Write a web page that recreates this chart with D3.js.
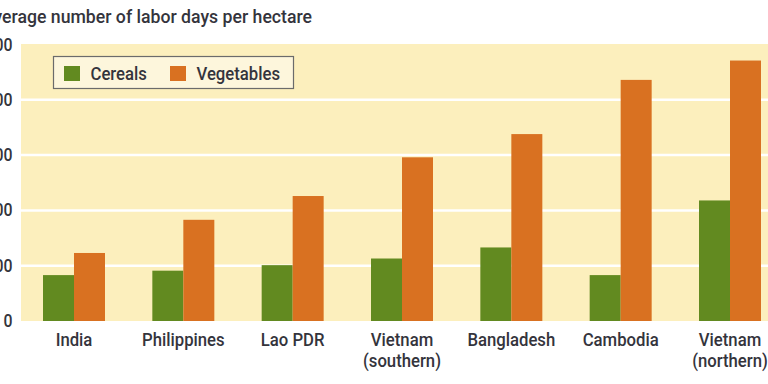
<!DOCTYPE html>
<html><head><meta charset="utf-8">
<script src="https://cdn.jsdelivr.net/npm/d3@7"></script>
<style>
html,body{margin:0;padding:0;background:#fff;overflow:hidden}
text{font-family:Roboto,"Liberation Sans",sans-serif;font-weight:500;fill:#34343c}
</style></head>
<body>
<svg id="c" width="768" height="384"></svg>
<script>
const categories = [["India"],["Philippines"],["Lao PDR"],["Vietnam","(southern)"],["Bangladesh"],["Cambodia"],["Vietnam","(northern)"]];
const cereals = [83, 91, 101, 113, 133, 83, 218];
const vegetables = [123, 183, 226, 296, 338, 436, 471];
const seriesNames = ["Cereals","Vegetables"];
const colors = ["#628a20","#d97121"];
const yTicks = [0,100,200,300,400,500];
const title = "Average number of labor days per hectare";

const svg = d3.select("#c");
const plotLeft = 21, plotRight = 768, plotTop = 44, plotBottom = 321;

const y = d3.scaleLinear().domain([0,500]).range([plotBottom, plotTop + 0.5]);
const x = d3.scaleBand().domain(d3.range(categories.length)).range([43, 761]).paddingInner(0.433).paddingOuter(0);
const xs = d3.scaleBand().domain([0,1]).range([0, x.bandwidth()]).paddingInner(0);

function label(px, py, anchor, size, str, sx){
  return svg.append("text").attr("transform",`translate(${px},${py}) scale(${sx||0.88},1)`)
    .attr("text-anchor",anchor).attr("font-size",size).text(str);
}

// background
svg.append("rect").attr("x",plotLeft).attr("y",plotTop).attr("width",plotRight-plotLeft).attr("height",plotBottom-plotTop).attr("fill","#fcefbd");
// gridlines
svg.selectAll("line.grid").data(yTicks.slice(1,5)).join("line")
  .attr("x1",plotLeft).attr("x2",plotRight)
  .attr("y1",d=>y(d)).attr("y2",d=>y(d))
  .attr("stroke","#fff").attr("stroke-width",2.5);

// y tick labels (left part falls outside the picture, as in the source)
yTicks.forEach(d=>label(12.5, y(d)+6, "end", 18, d));

// title
label(312, 23, "end", 18.5, title, 0.955);

// bars
const data = categories.map((c,i)=>[cereals[i], vegetables[i]]);
const g = svg.selectAll("g.grp").data(data).join("g").attr("transform",(d,i)=>`translate(${x(i)},0)`);
g.selectAll("rect").data(d=>d).join("rect")
  .attr("x",(d,j)=>xs(j)).attr("width",xs.bandwidth())
  .attr("y",d=>y(d)).attr("height",d=>plotBottom-y(d))
  .attr("fill",(d,j)=>colors[j]);

// category labels
categories.forEach((lines,i)=>{
  lines.forEach((l,k)=>label(x(i)+x.bandwidth()/2, 346 + k*21, "middle", 19, l));
});

// legend
svg.append("rect").attr("x",53.5).attr("y",56.5).attr("width",240).attr("height",32).attr("fill","#fdf6dc").attr("stroke","#6b6b6b").attr("stroke-width",1.2);
const lx = [64, 170], tx = [90.5, 196.5];
seriesNames.forEach((n,j)=>{
  svg.append("rect").attr("x",lx[j]).attr("y",66).attr("width",16).attr("height",15).attr("fill",colors[j]);
  label(tx[j], 80, "start", 19, n);
});
</script>
</body></html>
